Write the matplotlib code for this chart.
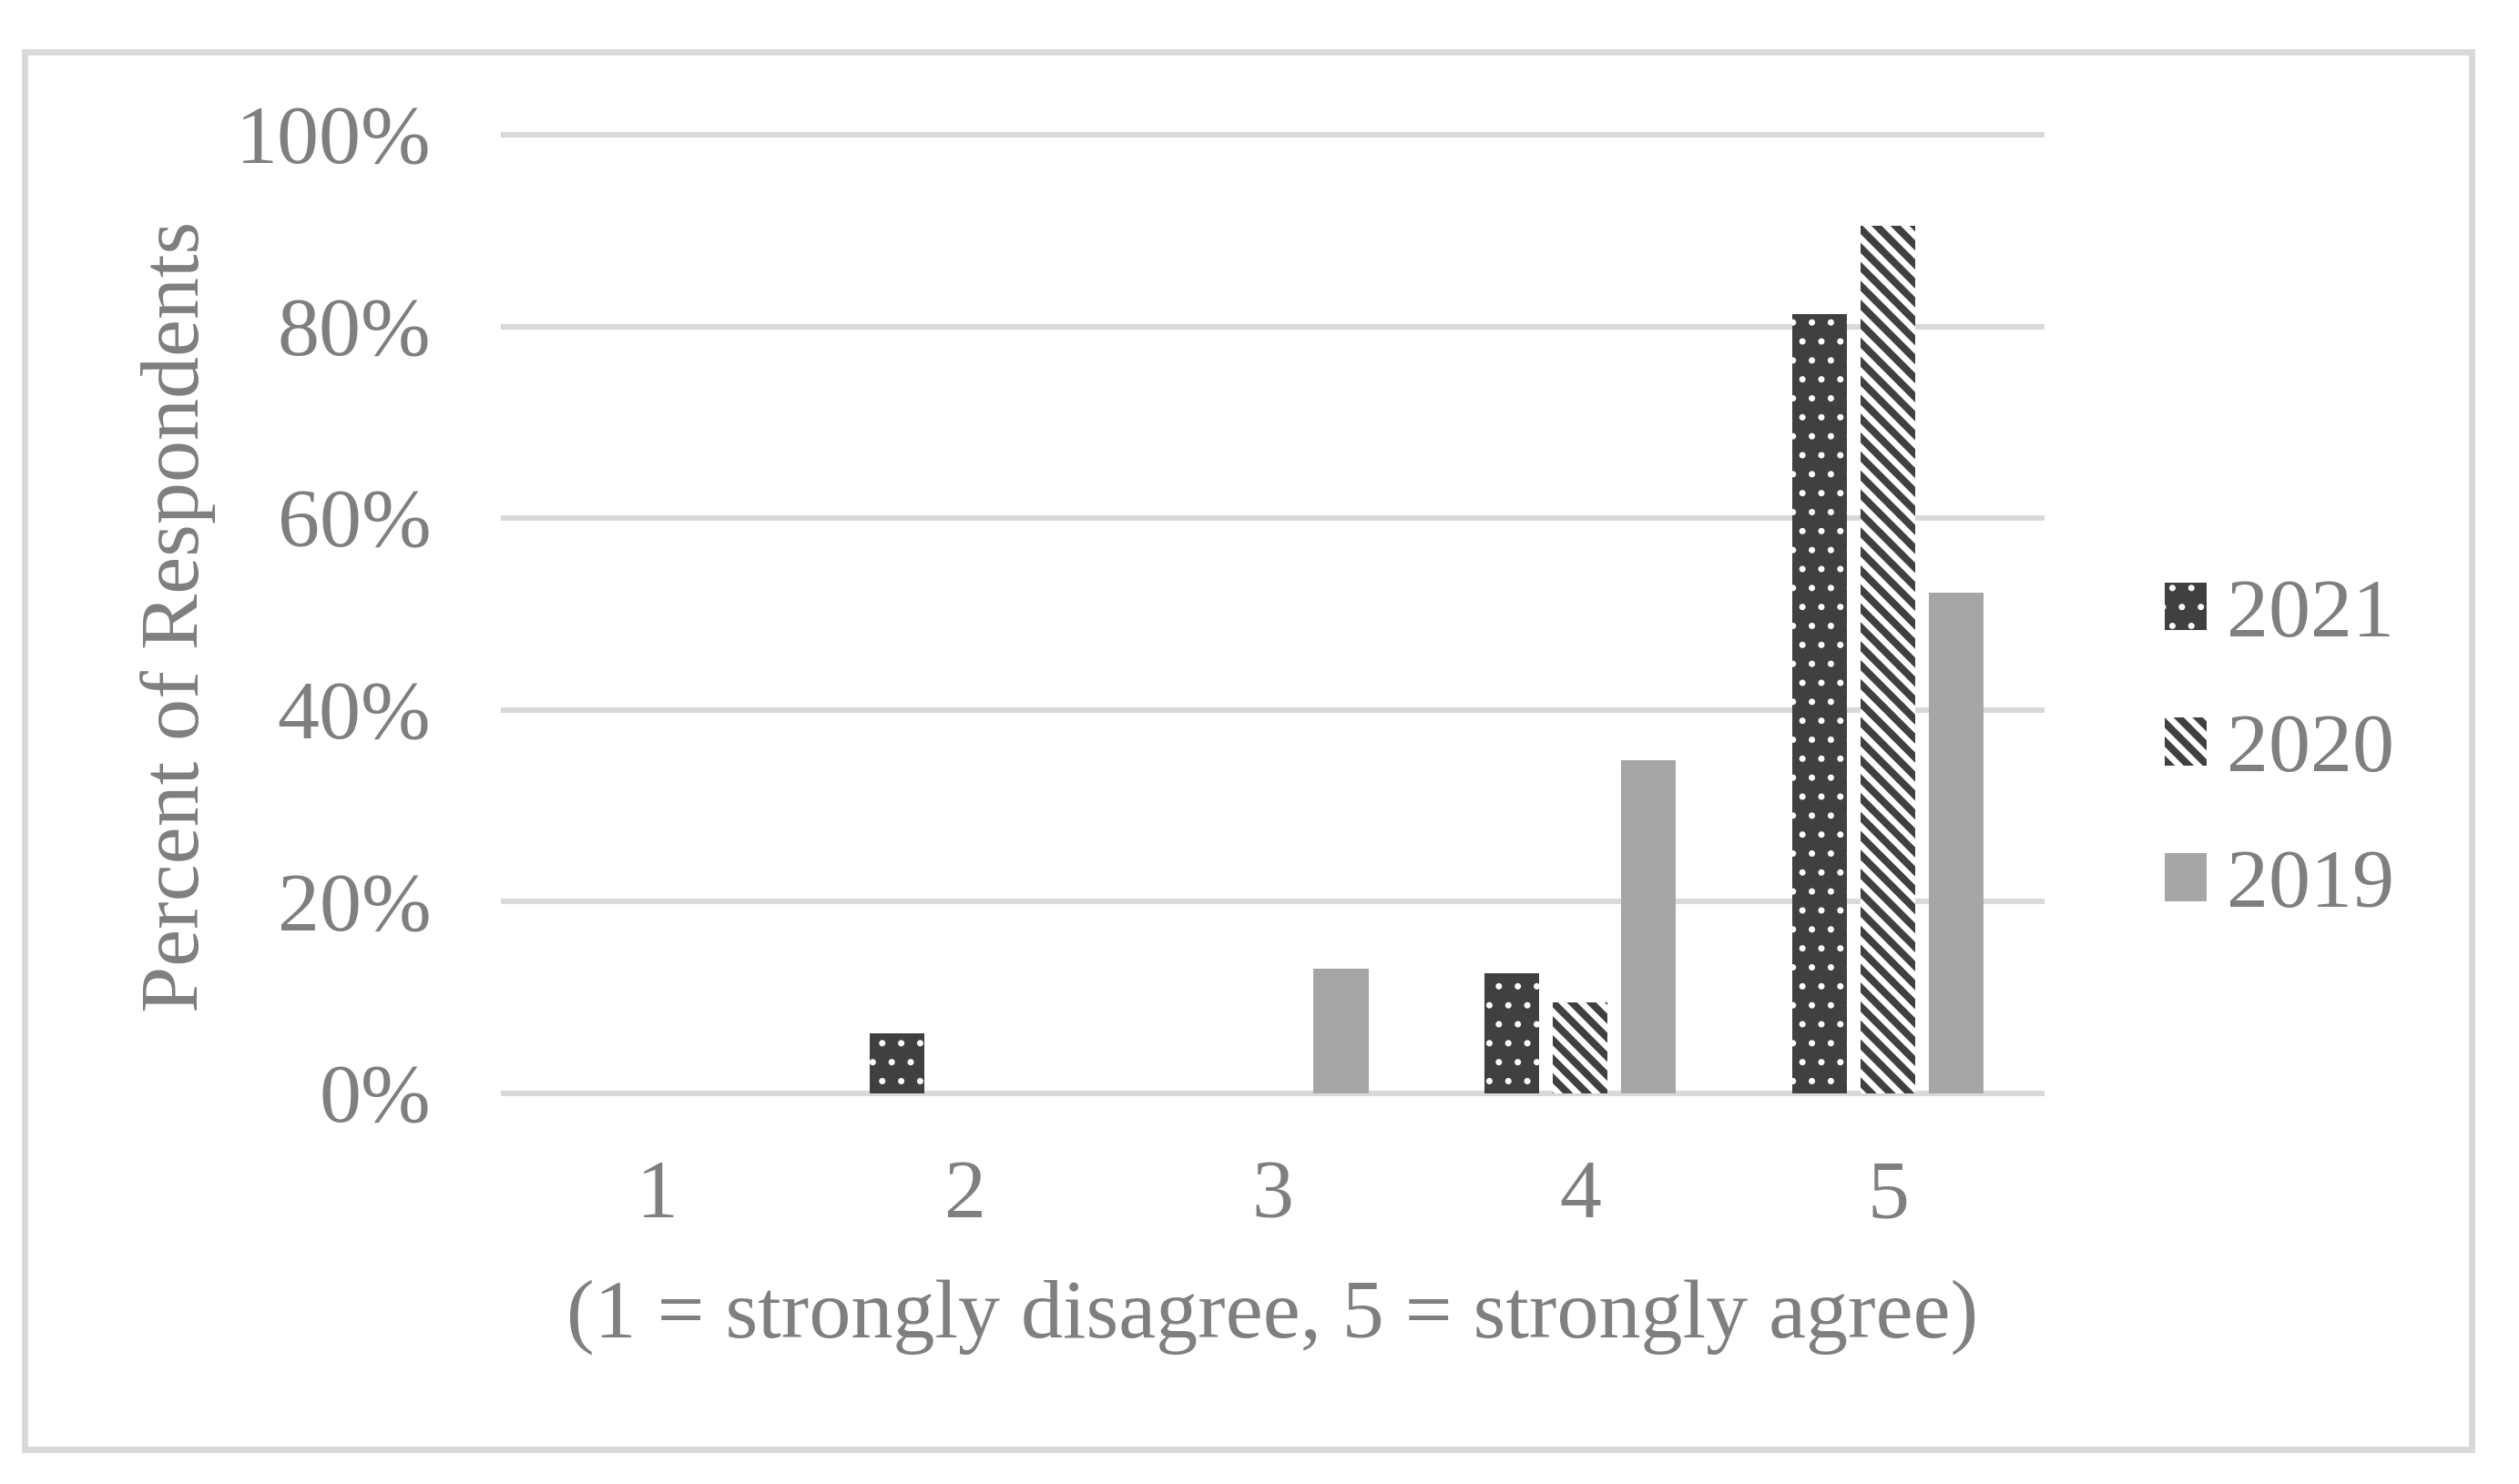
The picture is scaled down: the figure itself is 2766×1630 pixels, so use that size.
import matplotlib
matplotlib.use("Agg")
import matplotlib.pyplot as plt
import matplotlib.patches as mpatches
import numpy as np

# Data (percent of respondents)
categories = ["1", "2", "3", "4", "5"]
years = ["2021", "2020", "2019"]
pct_2021 = [0.0, 6.25, 0.0, 12.5, 81.25]
pct_2020 = [0.0, 0.0, 0.0, 9.5, 90.5]
pct_2019 = [0.0, 0.0, 13.0, 34.8, 52.2]
y_ticks = [0, 20, 40, 60, 80, 100]
y_tick_labels = ["0%", "20%", "40%", "60%", "80%", "100%"]

DPI = 125
TEXT = "#7f7f7f"
GRID = "#d9d9d9"
DARK = "#404040"
LIGHT = "#a6a6a6"
FS = 53

plt.rcParams["font.family"] = ["Liberation Serif", "DejaVu Serif"]

fig = plt.figure(figsize=(2766 / DPI, 1630 / DPI), dpi=DPI)
ax = fig.add_axes([553 / 2766, 429 / 1630, 1689 / 2766, 1053 / 1630])

x = np.arange(1, len(categories) + 1)
width = 0.178
step = 0.222

styles = [
    # (values, facecolor, hatch colour, hatch, hatch linewidth)
    (pct_2021, DARK, "white", ".", 1.6),
    (pct_2020, "white", DARK, "\\\\", 4.6),
    (pct_2019, LIGHT, LIGHT, None, 1.0),
]

for i, (vals, fc, hc, hatch, hlw) in enumerate(styles):
    with plt.rc_context({"hatch.linewidth": hlw}):
        bars = ax.bar(x + (i - 1) * step, vals, width, color=fc, edgecolor=hc,
                      linewidth=0, hatch=hatch, label=years[i], zorder=2)
        for b in bars:
            if hasattr(b, "set_hatch_linewidth"):
                b.set_hatch_linewidth(hlw)

ax.set_xlim(0.5, 5.5)
ax.set_ylim(0, 100)
ax.set_yticks(y_ticks)
ax.set_yticklabels(y_tick_labels)
ax.set_xticks(x)
ax.set_xticklabels(categories)

ax.yaxis.grid(True, color=GRID, linewidth=3.5)
for gl in ax.get_ygridlines():
    gl.set_clip_on(False)
ax.set_axisbelow(True)

for s in ax.spines.values():
    s.set_visible(False)

ax.tick_params(axis="y", length=0, pad=46, labelsize=FS, labelcolor=TEXT)
ax.tick_params(axis="x", length=0, pad=42, labelsize=FS, labelcolor=TEXT)

ax.set_xlabel("(1 = strongly disagree, 5 = strongly agree)", fontsize=FS, color=TEXT)
ax.xaxis.label.set_va("center")
ax.xaxis.set_label_coords(0.5, -0.2336)
ax.set_ylabel("Percent of Respondents", fontsize=FS, color=TEXT)
ax.yaxis.label.set_va("center")
ax.yaxis.set_label_coords(-0.2114, 0.497)

leg = fig.legend(loc="center left", bbox_to_anchor=(2377 / 2766, 805 / 1630),
                 frameon=False, fontsize=FS, handlelength=0.5, handleheight=0.5,
                 handletextpad=0.24, labelspacing=0.72, borderpad=0, borderaxespad=0)
for t in leg.get_texts():
    t.set_color(TEXT)
for h, st in zip(leg.legend_handles, styles):
    if hasattr(h, "set_hatch_linewidth"):
        h.set_hatch_linewidth(st[4])

# outer chart border
fig.patches.append(mpatches.Rectangle((27 / 2766, 38 / 1630), 2687 / 2766, 1535 / 1630,
                                      transform=fig.transFigure, fill=False,
                                      edgecolor=GRID, linewidth=4))

fig.savefig("out.png", dpi=DPI, facecolor="white")
